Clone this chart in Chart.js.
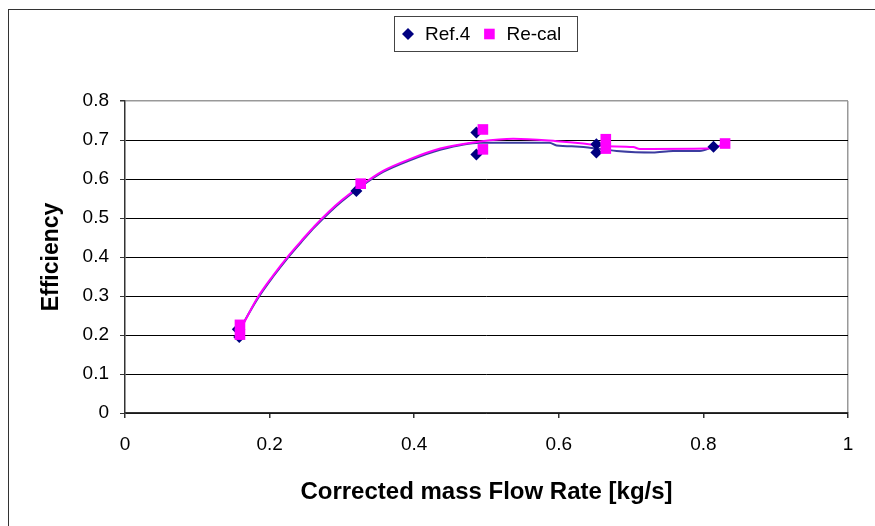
<!DOCTYPE html>
<html>
<head>
<meta charset="utf-8">
<title>Efficiency vs corrected mass flow rate</title>
<script src="https://cdn.jsdelivr.net/npm/chart.js@4.4.0/dist/chart.umd.min.js"></script>
<style>
  html, body { margin: 0; padding: 0; background: #fff; }
  #wrap { position: relative; width: 875px; height: 526px; }
</style>
</head>
<body>
<div id="wrap"><canvas id="myChart" width="875" height="526"></canvas></div>
<script>
// measured points
const ref4X = [0.156, 0.158, 0.320, 0.486, 0.486, 0.652, 0.652, 0.814];
const ref4Y = [0.215, 0.195, 0.569, 0.719, 0.663, 0.689, 0.668, 0.683];
const recalX = [0.159, 0.159, 0.326, 0.495, 0.495, 0.665, 0.665, 0.830];
const recalY = [0.226, 0.201, 0.588, 0.727, 0.676, 0.702, 0.678, 0.691];

// fitted curves
const ref4LineX = [0.156, 0.183, 0.205, 0.226, 0.247, 0.262, 0.283, 0.300, 0.323, 0.357, 0.394, 0.436, 0.491, 0.587, 0.597, 0.629, 0.680, 0.730, 0.758, 0.795, 0.814];
const ref4LineY = [0.205, 0.292, 0.350, 0.400, 0.445, 0.476, 0.515, 0.543, 0.576, 0.618, 0.648, 0.675, 0.693, 0.693, 0.686, 0.683, 0.672, 0.668, 0.672, 0.672, 0.683];
const recalLineX = [0.158, 0.183, 0.205, 0.226, 0.247, 0.262, 0.283, 0.300, 0.323, 0.357, 0.394, 0.436, 0.491, 0.537, 0.597, 0.634, 0.666, 0.703, 0.712, 0.804, 0.830];
const recalLineY = [0.208, 0.295, 0.353, 0.403, 0.448, 0.479, 0.518, 0.546, 0.579, 0.621, 0.651, 0.678, 0.696, 0.703, 0.697, 0.691, 0.684, 0.682, 0.677, 0.678, 0.689];

const xTicks = [0, 0.2, 0.4, 0.6, 0.8, 1];
const yTicks = [0, 0.1, 0.2, 0.3, 0.4, 0.5, 0.6, 0.7, 0.8];

const FONT = '"Liberation Sans", Arial, sans-serif';
const ctx = document.getElementById('myChart').getContext('2d');

const toPoints = (xs, ys) => xs.map((x, i) => ({ x, y: ys[i] }));

const frameAndLegend = {
    id: 'frameAndLegend',
    beforeDraw(chart) {
        const c = chart.ctx;
        c.save();
        c.strokeStyle = '#333';
        c.lineWidth = 1;
        c.strokeRect(8.5, 9.5, 1000, 1000);
        c.restore();
    },
    afterDraw(chart) {
        const c = chart.ctx;
        const items = chart.data.datasets.filter(ds => ds.inLegend);
        c.save();
        c.strokeStyle = '#444';
        c.lineWidth = 1;
        c.strokeRect(394.5, 16.5, 183, 35);
        c.font = '19px ' + FONT;
        c.textBaseline = 'middle';
        let x = 408;
        const y = 34;
        items.forEach(ds => {
            c.fillStyle = ds.backgroundColor;
            Chart.helpers.drawPoint(c, { pointStyle: ds.pointStyle, radius: ds.pointRadius, borderWidth: 0 }, x, y);
            c.fillStyle = '#000';
            c.fillText(ds.label, x + 17, y + 1);
            x += 17 + c.measureText(ds.label).width + 19;
        });
        c.restore();
    }
};

const config = {
    type: 'scatter',
    data: {
        datasets: [
            {
                label: 'Ref.4',
                inLegend: true,
                data: toPoints(ref4X, ref4Y),
                pointStyle: 'rectRot',
                pointRadius: 6,
                backgroundColor: '#000080',
                borderWidth: 0,
                order: 2,
            },
            {
                label: 'Re-cal',
                inLegend: true,
                data: toPoints(recalX, recalY),
                pointStyle: 'rect',
                pointRadius: 7.5,
                backgroundColor: '#ff00ff',
                borderWidth: 0,
                order: 1,
            },
            {
                label: 'Ref.4 fit',
                data: toPoints(ref4LineX, ref4LineY),
                showLine: true,
                pointRadius: 0,
                borderColor: '#3c3ca0',
                borderWidth: 2,
                cubicInterpolationMode: 'monotone',
                order: 4,
            },
            {
                label: 'Re-cal fit',
                data: toPoints(recalLineX, recalLineY),
                showLine: true,
                pointRadius: 0,
                borderColor: '#ff00ff',
                borderWidth: 2,
                cubicInterpolationMode: 'monotone',
                order: 3,
            },
        ],
    },
    options: {
        responsive: false,
        animation: false,
        events: [],
        layout: { padding: { top: 101, right: 27, bottom: 0, left: 0 } },
        plugins: {
            legend: { display: false },
            tooltip: { enabled: false },
        },
        scales: {
            x: {
                type: 'linear',
                min: 0,
                max: 1,
                afterBuildTicks: (scale) => { scale.ticks = xTicks.map(v => ({ value: v })); },
                afterFit: (scale) => { scale.height = 113; },
                ticks: {
                    font: { family: FONT, size: 19 },
                    color: '#000',
                    padding: 15,
                    maxRotation: 0,
                    callback: (v) => String(v),
                },
                grid: {
                    color: (c) => (c.tick && c.tick.value === 1 ? '#999' : 'rgba(0,0,0,0)'),
                    tickColor: '#333',
                    tickLength: 5,
                    lineWidth: 1.5,
                },
                border: { color: '#333', width: 1.5 },
                title: {
                    display: true,
                    text: 'Corrected mass Flow Rate [kg/s]',
                    color: '#000',
                    font: { family: FONT, size: 24, weight: 'bold' },
                    padding: { top: 0, bottom: 19 },
                },
            },
            y: {
                type: 'linear',
                min: 0,
                max: 0.8,
                afterBuildTicks: (scale) => { scale.ticks = yTicks.map(v => ({ value: v })); },
                afterFit: (scale) => { scale.width = 125; },
                ticks: {
                    font: { family: FONT, size: 19 },
                    color: '#000',
                    padding: 11,
                    callback: (v) => String(v),
                },
                grid: {
                    color: (c) => (c.tick && c.tick.value === 0.8 ? '#999' : '#000'),
                    lineWidth: (c) => (c.tick && c.tick.value === 0.8 ? 1.5 : 1),
                    tickColor: '#333',
                    tickLength: 5,
                },
                border: { color: '#333', width: 1.5 },
                title: {
                    display: true,
                    text: 'Efficiency',
                    color: '#000',
                    font: { family: FONT, size: 23, weight: 'bold' },
                    padding: { top: 38, bottom: 0 },
                },
            },
        },
    },
    plugins: [frameAndLegend],
};

const myChart = new Chart(ctx, config);
</script>
</body>
</html>
